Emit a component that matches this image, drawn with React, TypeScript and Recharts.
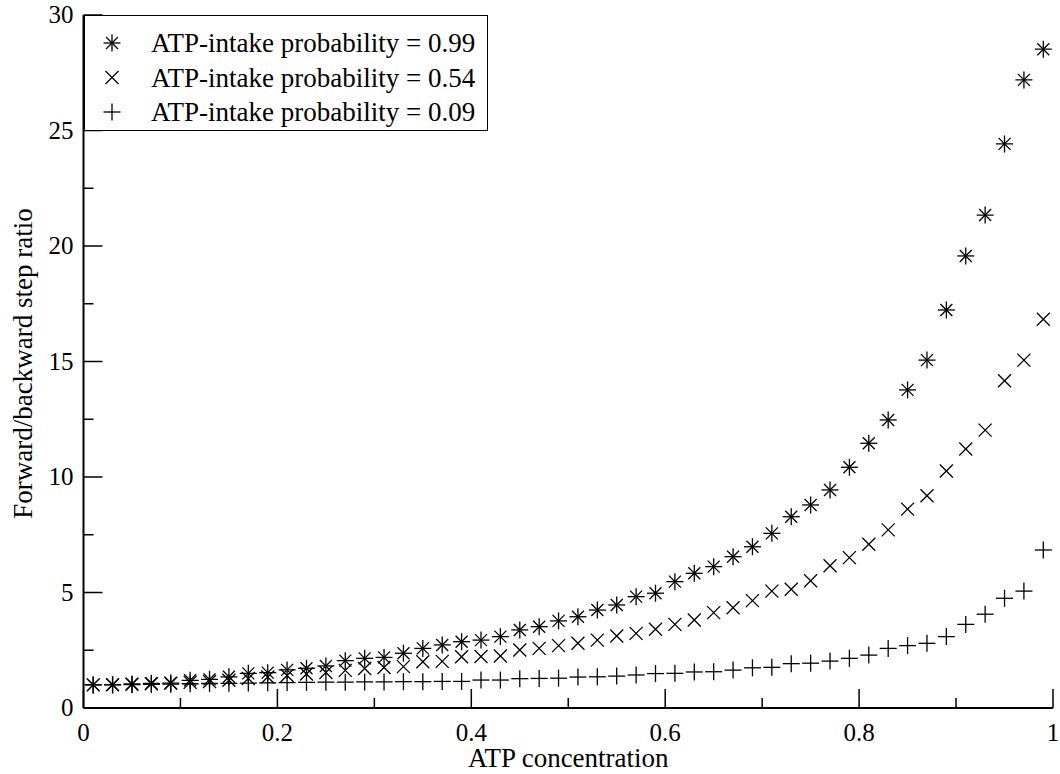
import { ScatterChart, Scatter, XAxis, YAxis, Legend } from "recharts";

const FONT = "'Liberation Serif', 'Times New Roman', serif";

// ATP concentration (x)
const atpConcentration = [
  0.01, 0.03, 0.05, 0.07, 0.09, 0.11, 0.13, 0.15, 0.17, 0.19,
  0.21, 0.23, 0.25, 0.27, 0.29, 0.31, 0.33, 0.35, 0.37, 0.39,
  0.41, 0.43, 0.45, 0.47, 0.49, 0.51, 0.53, 0.55, 0.57, 0.59,
  0.61, 0.63, 0.65, 0.67, 0.69, 0.71, 0.73, 0.75, 0.77, 0.79,
  0.81, 0.83, 0.85, 0.87, 0.89, 0.91, 0.93, 0.95, 0.97, 0.99,
];

// forward/backward step ratio, ATP-intake probability = 0.99
const ratioP099 = [
  1.0, 1.01, 1.04, 1.07, 1.08, 1.2, 1.24, 1.35, 1.5, 1.53,
  1.65, 1.72, 1.82, 2.05, 2.15, 2.19, 2.37, 2.58, 2.73, 2.87,
  2.94, 3.09, 3.38, 3.52, 3.77, 3.95, 4.24, 4.46, 4.82, 4.97,
  5.47, 5.83, 6.12, 6.55, 6.98, 7.56, 8.28, 8.79, 9.44, 10.42,
  11.46, 12.47, 13.77, 15.06, 17.23, 19.57, 21.34, 24.42, 27.19, 28.52,
];

// ATP-intake probability = 0.54
const ratioP054 = [
  1.0, 1.01, 1.03, 1.05, 1.07, 1.11, 1.15, 1.2, 1.28, 1.34,
  1.41, 1.47, 1.54, 1.63, 1.71, 1.75, 1.79, 2.0, 2.02, 2.22,
  2.23, 2.25, 2.51, 2.58, 2.7, 2.8, 2.94, 3.12, 3.23, 3.41,
  3.62, 3.81, 4.13, 4.34, 4.65, 5.06, 5.14, 5.51, 6.16, 6.51,
  7.09, 7.71, 8.61, 9.19, 10.26, 11.21, 12.03, 14.17, 15.06, 16.83,
];

// ATP-intake probability = 0.09
const ratioP009 = [
  1.0, 1.0, 1.01, 1.02, 1.03, 1.05, 1.06, 1.07, 1.08, 1.09,
  1.1, 1.11, 1.12, 1.12, 1.13, 1.13, 1.14, 1.14, 1.15, 1.15,
  1.21, 1.21, 1.27, 1.28, 1.29, 1.34, 1.35, 1.38, 1.43, 1.49,
  1.5, 1.56, 1.57, 1.64, 1.74, 1.76, 1.92, 1.94, 2.03, 2.15,
  2.29, 2.58, 2.7, 2.8, 3.09, 3.62, 4.06, 4.75, 5.06, 6.84,
];

const seriesNames = [
  "ATP-intake probability = 0.99",
  "ATP-intake probability = 0.54",
  "ATP-intake probability = 0.09",
];

const xTicks = [0, 0.1, 0.2, 0.3, 0.4, 0.5, 0.6, 0.7, 0.8, 0.9, 1];
const yTicks = [0, 2.5, 5, 7.5, 10, 12.5, 15, 17.5, 20, 22.5, 25, 27.5, 30];

const toPoints = (ys: number[]) => atpConcentration.map((x, i) => ({ x, y: ys[i] }));

const SW = 1.3;

function Star(props: any) {
  const { cx, cy } = props;
  const r = 8.5;
  const d = 6;
  return (
    <g stroke="#000" strokeWidth={SW}>
      <line x1={cx - r} y1={cy} x2={cx + r} y2={cy} />
      <line x1={cx} y1={cy - r} x2={cx} y2={cy + r} />
      <line x1={cx - d} y1={cy - d} x2={cx + d} y2={cy + d} />
      <line x1={cx - d} y1={cy + d} x2={cx + d} y2={cy - d} />
    </g>
  );
}

function Cross(props: any) {
  const { cx, cy } = props;
  const d = 6.5;
  return (
    <g stroke="#000" strokeWidth={SW}>
      <line x1={cx - d} y1={cy - d} x2={cx + d} y2={cy + d} />
      <line x1={cx - d} y1={cy + d} x2={cx + d} y2={cy - d} />
    </g>
  );
}

function Plus(props: any) {
  const { cx, cy } = props;
  const r = 8.5;
  return (
    <g stroke="#000" strokeWidth={SW}>
      <line x1={cx - r} y1={cy} x2={cx + r} y2={cy} />
      <line x1={cx} y1={cy - r} x2={cx} y2={cy + r} />
    </g>
  );
}

const shapes = [Star, Cross, Plus];

const isMajorX = (v: number) => Math.round(v * 10) % 2 === 0;
const isMajorY = (v: number) => Math.round(v * 2) % 10 === 0;

const textStyle = { fontFamily: FONT };

function BottomTick(props: any) {
  const { x, y, payload } = props;
  const v = payload.value;
  const major = isMajorX(v);
  return (
    <g>
      <line x1={x} x2={x} y1={y} y2={y - (major ? 19 : 10)} stroke="#000" strokeWidth={1.5} />
      {major && (
        <text x={x} y={y + 33} textAnchor="middle" fontSize={25} style={textStyle} fill="#000">
          {String(v)}
        </text>
      )}
    </g>
  );
}

function TopTick(props: any) {
  const { x, y, payload } = props;
  const major = isMajorX(payload.value);
  return <line x1={x} x2={x} y1={y} y2={y + (major ? 19 : 10)} stroke="#000" strokeWidth={1.5} />;
}

function LeftTick(props: any) {
  const { x, y, payload } = props;
  const v = payload.value;
  const major = isMajorY(v);
  return (
    <g>
      <line x1={x} x2={x + (major ? 19 : 10)} y1={y} y2={y} stroke="#000" strokeWidth={1.5} />
      {major && (
        <text x={x - 10} y={y + 8} textAnchor="end" fontSize={25} style={textStyle} fill="#000">
          {String(v)}
        </text>
      )}
    </g>
  );
}

function RightTick(props: any) {
  const { x, y, payload } = props;
  const major = isMajorY(payload.value);
  return <line x1={x} x2={x - (major ? 19 : 10)} y1={y} y2={y} stroke="#000" strokeWidth={1.5} />;
}

function LegendBox() {
  const rows = [27, 61.5, 96];
  return (
    <div
      style={{
        width: 404,
        height: 116,
        border: "1.5px solid #000",
        boxSizing: "border-box",
        background: "#fff",
        fontFamily: FONT,
      }}
    >
      <svg width={402} height={113} style={{ display: "block", fontFamily: FONT }}>
        {seriesNames.map((name, i) => {
          const Shape = shapes[i];
          return (
            <g key={name}>
              <Shape cx={27} cy={rows[i]} />
              <text x={66} y={rows[i] + 9} fontSize={27} style={textStyle} fill="#000">
                {name}
              </text>
            </g>
          );
        })}
      </svg>
    </div>
  );
}

export default function App() {
  const series = [ratioP099, ratioP054, ratioP009];
  return (
    <div style={{ position: "absolute", left: 0, top: 0, background: "#fff", fontFamily: FONT }}>
      <ScatterChart width={1060} height={774} margin={{ top: 15, right: 7, bottom: 0, left: 0 }}>
        <XAxis
          dataKey="x"
          type="number"
          domain={[0, 1]}
          ticks={xTicks}
          interval={0}
          height={66}
          tickSize={0}
          tickMargin={0}
          tickLine={false}
          tick={<BottomTick />}
          axisLine={{ stroke: "#000", strokeWidth: 2 }}
          allowDataOverflow
          label={{
            content: (p: any) => {
              const vb = p.viewBox || { x: 83.5, y: 708, width: 969.5 };
              return (
                <text
                  x={vb.x + vb.width / 2}
                  y={vb.y + 59}
                  textAnchor="middle"
                  fontSize={27}
                  style={textStyle}
                  fill="#000"
                >
                  ATP concentration
                </text>
              );
            },
          }}
        />
        <XAxis
          xAxisId="top"
          orientation="top"
          type="number"
          domain={[0, 1]}
          ticks={xTicks}
          interval={0}
          height={0}
          tickSize={0}
          tickMargin={0}
          tickLine={false}
          tick={<TopTick />}
          axisLine={{ stroke: "#000", strokeWidth: 2 }}
          allowDataOverflow
        />
        <YAxis
          dataKey="y"
          type="number"
          domain={[0, 30]}
          ticks={yTicks}
          interval={0}
          width={83.5}
          tickSize={0}
          tickMargin={0}
          tickLine={false}
          tick={<LeftTick />}
          axisLine={{ stroke: "#000", strokeWidth: 2 }}
          allowDataOverflow
          label={{
            content: (p: any) => {
              const vb = p.viewBox || { x: 0, y: 15, height: 693 };
              const cx = vb.x + 32;
              const cy = vb.y + vb.height / 2 + 2;
              return (
                <text
                  x={cx}
                  y={cy}
                  transform={`rotate(-90, ${cx}, ${cy})`}
                  textAnchor="middle"
                  fontSize={27}
                  style={textStyle}
                  fill="#000"
                >
                  Forward/backward step ratio
                </text>
              );
            },
          }}
        />
        <YAxis
          yAxisId="right"
          orientation="right"
          type="number"
          domain={[0, 30]}
          ticks={yTicks}
          interval={0}
          width={0}
          tickSize={0}
          tickMargin={0}
          tickLine={false}
          tick={<RightTick />}
          axisLine={{ stroke: "#000", strokeWidth: 2 }}
          allowDataOverflow
        />
        {series.map((ys, i) => (
          <Scatter
            key={seriesNames[i]}
            name={seriesNames[i]}
            data={toPoints(ys)}
            shape={shapes[i]}
            fill="#000"
            isAnimationActive={false}
          />
        ))}
        <Legend
          layout="vertical"
          align="center"
          verticalAlign="middle"
          wrapperStyle={{ left: 83.5, top: 15, width: 404, height: 116 }}
          content={() => <LegendBox />}
        />
      </ScatterChart>
    </div>
  );
}
